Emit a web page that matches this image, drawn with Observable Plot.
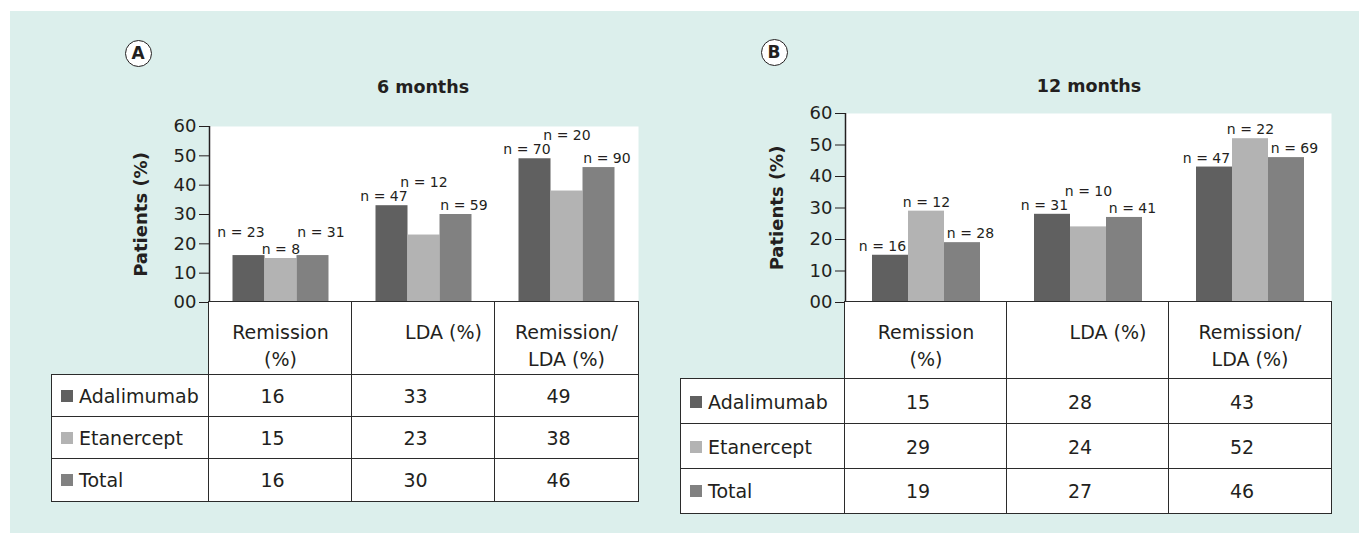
<!DOCTYPE html>
<html><head><meta charset="utf-8">
<script src="https://cdn.jsdelivr.net/npm/d3@7"></script>
<script src="https://cdn.jsdelivr.net/npm/@observablehq/plot@0.6"></script>
<style>
html,body{margin:0;padding:0;background:#fff;}
body{width:1359px;height:533px;position:relative;overflow:hidden;font-family:"DejaVu Sans",sans-serif;color:#231f20;}
#bg{position:absolute;left:10px;top:11px;right:0;bottom:0;background:#dcefec;}
.abs{position:absolute;}
.title{font-weight:bold;font-size:17.5px;text-align:center;width:200px;line-height:20px;}
.circ{box-sizing:border-box;width:27px;height:27px;border:1.5px solid #231f20;border-radius:50%;background:#fff;font-weight:bold;font-size:17px;display:flex;align-items:center;justify-content:center;line-height:1;}
.tbl{display:grid;font-size:19px;}
.cell{background:#fff;outline:1.5px solid #2b2b2b;outline-offset:-0.75px;display:flex;align-items:center;justify-content:center;box-sizing:border-box;}
.cell.empty{background:transparent;outline:none;}
.cell.head{align-items:flex-start;text-align:center;line-height:27px;padding-top:17px;}
.cell.val{padding-right:16px;}
.cell.lab{justify-content:flex-start;padding-left:9px;}
.sq{display:inline-block;width:12px;height:12px;margin-right:6px;}
</style></head><body>
<div id="bg"></div>
<script>
// ---------- data ----------
const categories = ["Remission (%)", "LDA (%)", "Remission/LDA (%)"];
const categoryHeaders = [["Remission", "(%)"], ["LDA (%)"], ["Remission/", "LDA (%)"]];
const series = ["Adalimumab", "Etanercept", "Total"];
const panelTitles = ["6 months", "12 months"];
const panelLetters = ["A", "B"];
const yLabel = "Patients (%)";
const yTicks = [0, 10, 20, 30, 40, 50, 60];
const yTickLabels = ["00", "10", "20", "30", "40", "50", "60"];

// 6 months
const adalimumab6 = [16, 33, 49];
const etanercept6 = [15, 23, 38];
const total6 = [16, 30, 46];
const nAdalimumab6 = [23, 47, 70];
const nEtanercept6 = [8, 12, 20];
const nTotal6 = [31, 59, 90];

// 12 months
const adalimumab12 = [15, 28, 43];
const etanercept12 = [29, 24, 52];
const total12 = [19, 27, 46];
const nAdalimumab12 = [16, 31, 47];
const nEtanercept12 = [12, 10, 22];
const nTotal12 = [28, 41, 69];

// styles
const seriesColors = ["#606060", "#b3b3b3", "#818181"];
const ink = "#231f20";

function el(tag, cls, css, text) {
  const e = document.createElement(tag);
  if (cls) e.className = cls;
  if (css) Object.assign(e.style, css);
  if (text != null) e.textContent = text;
  return e;
}

function panelPlot(cfg) {
  const {left, top, frameLeft, frameRight, frameTop, zeroY, barW, values, ns} = cfg;
  const marginLeft = frameLeft - left, marginTop = frameTop - top;
  const marginRight = 20, marginBottom = 10;
  const width = frameRight - left + marginRight;
  const height = zeroY - top + marginBottom;
  const band = (frameRight - frameLeft) / categories.length;
  const pad = (band - series.length * barW) / 2;

  const rows = [];
  categories.forEach((c, ci) => {
    const a = values[0][ci], e = values[1][ci], t = values[2][ci];
    const m = Math.max(a, t);
    series.forEach((s, si) => {
      let anchor = values[si][ci], raised = false;
      if (si === 1) {
        if (e < m - 1.5) { anchor = m; raised = true; }
      } else {
        if (e <= m && e >= m - 1.5) raised = true;
      }
      rows.push({series: s, si, category: c, ci, value: values[si][ci], n: ns[si][ci], anchor, raised});
    });
  });

  const marks = [Plot.frame({fill: "white", stroke: "none"})];
  series.forEach((s, si) => {
    marks.push(Plot.barY(rows.filter(r => r.si === si), {
      x: "category", y: "value", fill: seriesColors[si],
      insetLeft: pad + si * barW, insetRight: band - pad - (si + 1) * barW
    }));
  });
  series.forEach((s, si) => {
    [false, true].forEach(raised => {
      marks.push(Plot.text(rows.filter(r => r.si === si && r.raised === raised), {
        x: "category", y: "anchor", text: d => `n = ${d.n}`,
        dx: (si - 1) * (barW + 8), dy: raised ? -23 : -9,
        fontSize: 14, fill: ink
      }));
    });
  });
  marks.push(Plot.ruleY([0], {stroke: ink, strokeWidth: 1.5}));
  marks.push(Plot.ruleX([categories[0]], {x: d => d, y1: 0, y2: 60, dx: -band / 2, stroke: ink, strokeWidth: 1.5}));
  marks.push(Plot.axisY(yTicks, {
    tickFormat: d => yTickLabels[yTicks.indexOf(d)],
    tickSize: 10, tickPadding: 3, fontSize: 18, label: null, stroke: ink, fill: ink
  }));
  marks.push(Plot.text([yLabel], {frameAnchor: "left", textAnchor: "middle", rotate: -90, dx: -68, fontWeight: "bold", fontSize: 18, fill: ink}));

  const svg = Plot.plot({
    width, height, marginLeft, marginRight, marginTop, marginBottom,
    x: {type: "band", domain: categories, padding: 0, axis: null},
    y: {domain: [0, 60], axis: null},
    style: {background: "transparent", fontFamily: "DejaVu Sans", color: ink, overflow: "visible"},
    marks
  });
  svg.style.position = "absolute";
  svg.style.left = left + "px";
  svg.style.top = top + "px";
  return svg;
}

function panelTable(cfg) {
  const {left, top, cols, rowsH, values} = cfg;
  const g = el("div", "tbl abs", {
    left: left + "px", top: top + "px",
    gridTemplateColumns: cols.map(c => c + "px").join(" "),
    gridTemplateRows: rowsH.map(r => r + "px").join(" ")
  });
  g.appendChild(el("div", "cell empty"));
  categoryHeaders.forEach((lines, ci) => {
    const c = el("div", "cell head");
    if (ci === 1) c.style.paddingLeft = "40px";
    c.innerHTML = lines.join("<br>");
    g.appendChild(c);
  });
  series.forEach((s, si) => {
    const lab = el("div", "cell lab");
    lab.appendChild(el("span", "sq", {background: seriesColors[si]}));
    lab.appendChild(el("span", null, null, s));
    g.appendChild(lab);
    categories.forEach((c, ci) => g.appendChild(el("div", "cell val", null, String(values[si][ci]))));
  });
  return g;
}

const body = document.body;
const panels = [
  {
    plot: {left: 20, top: 100, frameLeft: 209, frameRight: 638, frameTop: 126, zeroY: 302, barW: 32,
           values: [adalimumab6, etanercept6, total6], ns: [nAdalimumab6, nEtanercept6, nTotal6]},
    table: {left: 52, top: 302, cols: [157, 143, 143, 143], rowsH: [73, 42, 42, 42],
            values: [adalimumab6, etanercept6, total6]},
    title: {cx: 423, cy: 87}, circ: {cx: 138, cy: 53}
  },
  {
    plot: {left: 660, top: 90, frameLeft: 845, frameRight: 1331, frameTop: 113, zeroY: 302, barW: 36,
           values: [adalimumab12, etanercept12, total12], ns: [nAdalimumab12, nEtanercept12, nTotal12]},
    table: {left: 681, top: 302, cols: [164, 162, 162, 162], rowsH: [77, 45, 45, 44],
            values: [adalimumab12, etanercept12, total12]},
    title: {cx: 1089, cy: 86}, circ: {cx: 774, cy: 52}
  }
];

panels.forEach((p, i) => {
  body.appendChild(panelPlot(p.plot));
  body.appendChild(panelTable(p.table));
  body.appendChild(el("div", "abs title", {left: (p.title.cx - 100) + "px", top: (p.title.cy - 10) + "px"}, panelTitles[i]));
  body.appendChild(el("div", "abs circ", {left: (p.circ.cx - 13.5) + "px", top: (p.circ.cy - 13.5) + "px"}, panelLetters[i]));
});
</script>
</body></html>
